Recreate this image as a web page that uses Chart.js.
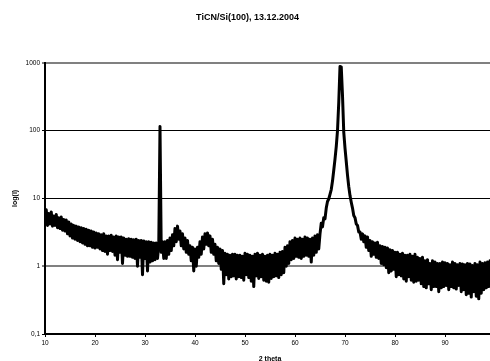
<!DOCTYPE html>
<html>
<head>
<meta charset="utf-8">
<script src="https://cdn.jsdelivr.net/npm/chart.js@4/dist/chart.umd.min.js"></script>
<style>
  html, body { margin: 0; padding: 0; overflow: hidden; background: #fff; }
  canvas { display: block; }
</style>
</head>
<body>
<canvas id="xrd" width="509" height="368"></canvas>
<script>
/* XRD scan TiCN/Si(100): 2 theta vs intensity, log scale. */

const chartTitle = 'TiCN/Si(100), 13.12.2004';
const xTitle = '2 theta';
const yTitle = 'log(I)';

const xTicks = [10, 20, 30, 40, 50, 60, 70, 80, 90, 100];
const yTicks = [0.1, 1, 10, 100, 1000];
const yTickLabels = ['0,1', '1', '10', '100', '1000'];

// 2 theta, 0.25 deg steps (one row = 5 deg)
const twoTheta = [
  10,10.25,10.5,10.75, 11,11.25,11.5,11.75, 12,12.25,12.5,12.75, 13,13.25,13.5,13.75, 14,14.25,14.5,14.75,
  15,15.25,15.5,15.75, 16,16.25,16.5,16.75, 17,17.25,17.5,17.75, 18,18.25,18.5,18.75, 19,19.25,19.5,19.75,
  20,20.25,20.5,20.75, 21,21.25,21.5,21.75, 22,22.25,22.5,22.75, 23,23.25,23.5,23.75, 24,24.25,24.5,24.75,
  25,25.25,25.5,25.75, 26,26.25,26.5,26.75, 27,27.25,27.5,27.75, 28,28.25,28.5,28.75, 29,29.25,29.5,29.75,
  30,30.25,30.5,30.75, 31,31.25,31.5,31.75, 32,32.25,32.5,32.75, 33,33.25,33.5,33.75, 34,34.25,34.5,34.75,
  35,35.25,35.5,35.75, 36,36.25,36.5,36.75, 37,37.25,37.5,37.75, 38,38.25,38.5,38.75, 39,39.25,39.5,39.75,
  40,40.25,40.5,40.75, 41,41.25,41.5,41.75, 42,42.25,42.5,42.75, 43,43.25,43.5,43.75, 44,44.25,44.5,44.75,
  45,45.25,45.5,45.75, 46,46.25,46.5,46.75, 47,47.25,47.5,47.75, 48,48.25,48.5,48.75, 49,49.25,49.5,49.75,
  50,50.25,50.5,50.75, 51,51.25,51.5,51.75, 52,52.25,52.5,52.75, 53,53.25,53.5,53.75, 54,54.25,54.5,54.75,
  55,55.25,55.5,55.75, 56,56.25,56.5,56.75, 57,57.25,57.5,57.75, 58,58.25,58.5,58.75, 59,59.25,59.5,59.75,
  60,60.25,60.5,60.75, 61,61.25,61.5,61.75, 62,62.25,62.5,62.75, 63,63.25,63.5,63.75, 64,64.25,64.5,64.75,
  65,65.25,65.5,65.75, 66,66.25,66.5,66.75, 67,67.25,67.5,67.75, 68,68.25,68.5,68.75, 69,69.25,69.5,69.75,
  70,70.25,70.5,70.75, 71,71.25,71.5,71.75, 72,72.25,72.5,72.75, 73,73.25,73.5,73.75, 74,74.25,74.5,74.75,
  75,75.25,75.5,75.75, 76,76.25,76.5,76.75, 77,77.25,77.5,77.75, 78,78.25,78.5,78.75, 79,79.25,79.5,79.75,
  80,80.25,80.5,80.75, 81,81.25,81.5,81.75, 82,82.25,82.5,82.75, 83,83.25,83.5,83.75, 84,84.25,84.5,84.75,
  85,85.25,85.5,85.75, 86,86.25,86.5,86.75, 87,87.25,87.5,87.75, 88,88.25,88.5,88.75, 89,89.25,89.5,89.75,
  90,90.25,90.5,90.75, 91,91.25,91.5,91.75, 92,92.25,92.5,92.75, 93,93.25,93.5,93.75, 94,94.25,94.5,94.75,
  95,95.25,95.5,95.75, 96,96.25,96.5,96.75, 97,97.25,97.5,97.75, 98,98.25,98.5,98.75, 99,99.25,99.5,99.75,
  100
];

// intensity (counts), same layout as twoTheta
const intensity = [
  5.5,6.8,4.0,6.0, 4.2,6.3,3.9,5.5, 4.0,5.8,3.7,5.2, 3.6,5.3,3.4,4.9, 3.3,4.8,3.0,4.5,
  2.8,4.2,2.6,4.0, 2.5,3.9,2.4,3.8, 2.3,3.7,2.2,3.6, 2.1,3.5,2.0,3.4, 2.0,3.3,1.9,3.2,
  1.85,3.1,1.9,3.0, 1.8,2.9,1.7,3.0, 1.65,2.8,1.5,2.8, 1.7,2.85,1.65,2.7, 1.45,2.8,1.25,2.7,
  1.6,2.7,1.1,2.6, 1.45,2.5,1.4,2.55, 1.4,2.5,1.35,2.45, 1.3,2.5,1.0,2.4, 1.35,2.4,0.75,2.35,
  1.3,2.3,0.85,2.3, 1.15,2.25,1.2,2.2, 1.25,2.2,1.3,2.0, 115,1.6,2.3,1.3, 2.3,1.3,2.4,1.5,
  2.6,1.7,2.9,2.0, 3.6,2.3,3.9,2.5, 3.3,2.0,3.0,1.8, 2.6,1.6,2.4,1.5, 2.0,1.2,1.9,0.85,
  1.8,1.0,1.9,1.35, 2.3,1.5,2.7,1.8, 3.0,2.1,3.1,2.0, 2.8,1.6,2.5,1.5, 2.1,1.2,1.9,1.1,
  1.8,0.9,1.7,0.55, 1.55,0.75,1.5,0.65, 1.45,0.7,1.5,0.72, 1.5,0.65,1.45,0.7, 1.45,0.68,1.4,0.62,
  1.55,0.75,1.5,0.68, 1.45,0.6,1.4,0.5, 1.5,0.72,1.55,0.66, 1.45,0.7,1.5,0.62, 1.4,0.6,1.45,0.58,
  1.5,0.66,1.45,0.7, 1.55,0.72,1.5,0.68, 1.6,0.75,1.65,0.8, 1.9,1.0,2.0,1.1, 2.3,1.25,2.4,1.3,
  2.6,1.4,2.5,1.35, 2.6,1.3,2.5,1.4, 2.7,1.45,2.6,1.4, 2.5,1.15,2.6,1.45, 2.8,1.6,2.9,1.8,
  3.0,4.3,3.8,5.2, 5.0,7.2,9.0,9.8, 11.5,13.5,18,26, 38,58,100,260, 880,870,330,95,
  55,35,22,15, 11,8.8,7.2,5.6, 5.2,4.2,4.0,3.2, 3.2,2.5,3.0,2.3, 2.8,1.9,2.7,1.7,
  2.4,1.4,2.3,1.5, 2.2,1.35,2.25,1.3, 2.0,1.1,1.95,1.05, 1.9,0.95,1.85,0.8, 1.75,0.85,1.7,0.9,
  1.6,0.7,1.6,0.75, 1.5,0.72,1.55,0.65, 1.45,0.6,1.45,0.7, 1.5,0.62,1.4,0.58, 1.5,0.6,1.35,0.62,
  1.3,0.55,1.35,0.5, 1.2,0.48,1.25,0.55, 1.1,0.45,1.2,0.5, 1.15,0.5,1.1,0.42, 1.1,0.48,1.15,0.5,
  1.12,0.52,1.1,0.45, 1.05,0.5,1.15,0.48, 1.1,0.46,1.05,0.52, 1.1,0.42,1.08,0.45, 1.05,0.38,1.1,0.4,
  1.08,0.35,1.02,0.42, 1.1,0.36,1.05,0.33, 1.15,0.4,1.1,0.45, 1.12,0.48,1.15,0.5, 1.2,0.52,1.1,0.55,
  1.1
];

const FONT = '"Liberation Sans", Arial, sans-serif';

new Chart(document.getElementById('xrd'), {
  type: 'line',
  data: {
    datasets: [{
      data: twoTheta.map((x, i) => ({ x, y: intensity[i] })),
      borderColor: '#000',
      borderWidth: 3,
      borderJoinStyle: 'round',
      pointRadius: 0,
      tension: 0
    }]
  },
  options: {
    responsive: false,
    animation: false,
    devicePixelRatio: 1,
    layout: { padding: { left: 0, right: 14, top: 0, bottom: 0 } },
    plugins: {
      legend: { display: false },
      tooltip: { enabled: false },
      title: {
        display: true, text: chartTitle, color: '#000',
        font: { family: FONT, size: 9, weight: 'bold' },
        padding: { top: 12, bottom: 40 }
      }
    },
    scales: {
      x: {
        type: 'linear', min: 10, max: 100,
        afterBuildTicks: s => { s.ticks = xTicks.map(v => ({ value: v })); },
        afterFit: s => { s.height = 34; },
        ticks: { color: '#000', font: { family: FONT, size: 6.5 }, padding: 2,
                 maxRotation: 0, autoSkip: false, callback: v => String(v) },
        grid: { drawOnChartArea: false, tickLength: 3, color: '#000', tickColor: '#000' },
        border: { color: '#000', width: 2 },
        title: { display: true, text: xTitle, color: '#000',
                 font: { family: FONT, size: 7, weight: 'bold' }, padding: { top: 0, bottom: 4.5 } }
      },
      y: {
        type: 'logarithmic', min: 0.1, max: 1000,
        afterBuildTicks: s => { s.ticks = yTicks.map(v => ({ value: v })); },
        afterFit: s => { s.width = 45; },
        ticks: { color: '#000', font: { family: FONT, size: 6.5 }, padding: 2,
                 callback: v => yTickLabels[yTicks.indexOf(v)] },
        grid: {
          tickLength: 3, tickColor: '#000', tickWidth: 1,
          color: ctx => {
            const v = ctx.tick && ctx.tick.value;
            if (v === 0.1) return 'rgba(0,0,0,0)';
            return (v === 1 || v === 1000) ? '#808080' : '#000';
          },
          lineWidth: ctx => {
            const v = ctx.tick && ctx.tick.value;
            return (v === 1 || v === 1000) ? 2 : 1;
          }
        },
        border: { color: '#000', width: 2 },
        title: { display: true, text: yTitle, color: '#000',
                 font: { family: FONT, size: 7, weight: 'bold' }, padding: { top: 11, bottom: 0 } }
      }
    }
  }
});
</script>
</body>
</html>
